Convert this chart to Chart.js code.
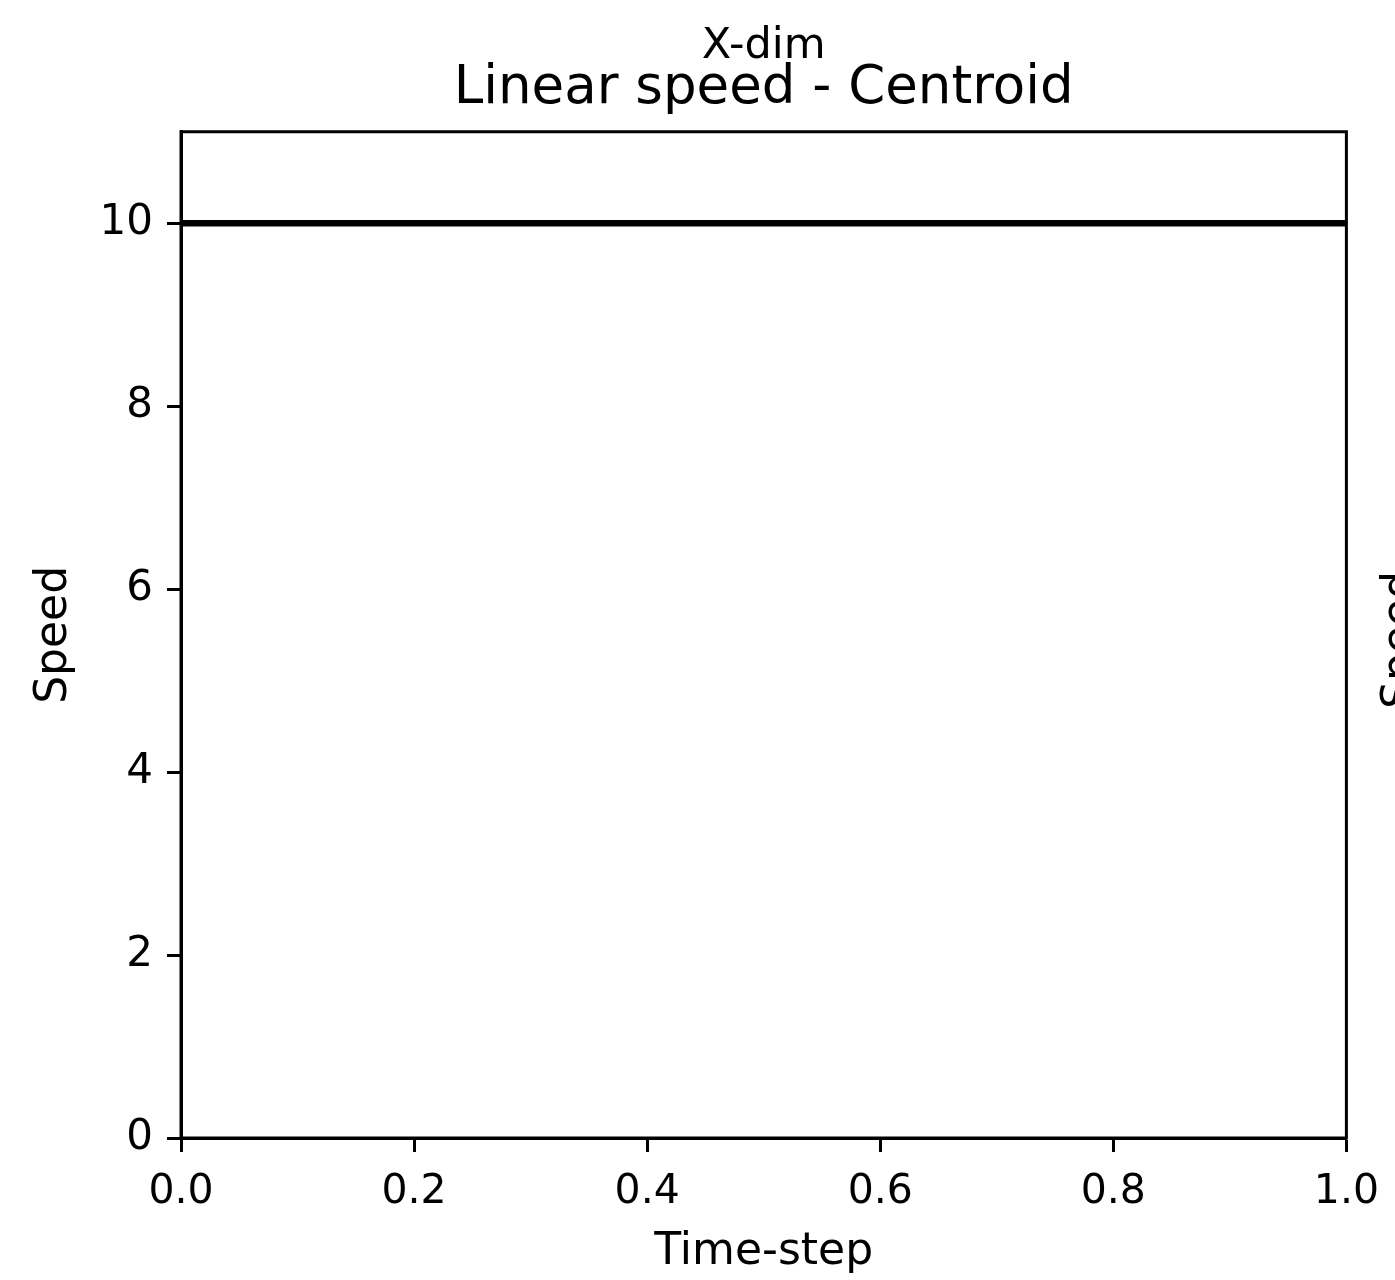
<!DOCTYPE html>
<html>
<head>
<meta charset="utf-8">
<script src="https://cdn.jsdelivr.net/npm/chart.js@4/dist/chart.umd.min.js"></script>
<style>
  html, body { margin:0; padding:0; background:#fff; }
  #wrap { width:1395px; height:1280px; }
</style>
</head>
<body>
<div id="wrap"><canvas id="chart" width="1395" height="1280"></canvas></div>
<script>
const timeSteps = [0, 1];
const speed = [10, 10];
const xTicks = [0, 0.2, 0.4, 0.6, 0.8, 1.0];
const yTicks = [0, 2, 4, 6, 8, 10];

const FONT = "'DejaVu Sans', sans-serif";

// outer box (top/right spines) + cut-off label of the next panel
const frame = {
  id:'frame',
  afterDraw(chart){
    const { ctx, chartArea:a } = chart;
    ctx.save();
    ctx.strokeStyle = '#000';
    ctx.lineWidth = 3;
    ctx.strokeRect(a.left, a.top, a.right - a.left, a.bottom - a.top);
    ctx.translate(1402, 640);
    ctx.rotate(-Math.PI/2);
    ctx.font = '44px ' + FONT;
    ctx.fillStyle = '#000';
    ctx.textAlign = 'center';
    ctx.textBaseline = 'middle';
    ctx.fillText('Speed', 0, 0);
    ctx.restore();
  }
};

function onReady(){
  new Chart(document.getElementById('chart'), {
    type:'line',
    data:{
      datasets:[{
        data: timeSteps.map((t,i) => ({ x:t, y:speed[i] })),
        borderColor:'#000',
        borderWidth:6.5,
        pointRadius:0,
        fill:false
      }]
    },
    options:{
      responsive:false,
      animation:false,
      layout:{ padding:{ left:0, right:48, top:0, bottom:0 } },
      plugins:{
        legend:{ display:false },
        tooltip:{ enabled:false },
        title:{
          display:true, fullSize:false, text:'X-dim', color:'#000',
          font:{ family:FONT, size:43, weight:'normal', lineHeight:0.9 },
          padding:{ top:27, bottom:0 }
        },
        subtitle:{
          display:true, fullSize:false, text:'Linear speed - Centroid', color:'#000',
          font:{ family:FONT, size:53, weight:'normal', lineHeight:0.85 },
          padding:{ top:1, bottom:20 }
        }
      },
      scales:{
        x:{
          type:'linear', min:0, max:1,
          afterBuildTicks: s => { s.ticks = xTicks.map(v => ({ value:v })); },
          afterFit: s => { s.height = 142; },
          border:{ display:true, color:'#000', width:3 },
          grid:{ display:true, drawOnChartArea:false, tickLength:14, tickWidth:3, tickColor:'#000' },
          ticks:{ color:'#000', font:{ family:FONT, size:41 }, padding:16, maxRotation:0,
                  callback: v => v.toFixed(1) },
          title:{ display:true, text:'Time-step', color:'#000',
                  font:{ family:FONT, size:44 }, padding:{ top:0, bottom:1 } }
        },
        y:{
          type:'linear', min:0, max:11,
          afterBuildTicks: s => { s.ticks = yTicks.map(v => ({ value:v })); },
          afterFit: s => { s.width = 181; },
          border:{ display:true, color:'#000', width:3 },
          grid:{ display:true, drawOnChartArea:false, tickLength:14, tickWidth:3, tickColor:'#000' },
          ticks:{ color:'#000', font:{ family:FONT, size:42 }, padding:14 },
          title:{ display:true, text:'Speed', color:'#000',
                  font:{ family:FONT, size:44 }, padding:{ top:28, bottom:0 } }
        }
      }
    },
    plugins:[frame]
  });
}

document.addEventListener('DOMContentLoaded', onReady);
</script>
</body>
</html>
